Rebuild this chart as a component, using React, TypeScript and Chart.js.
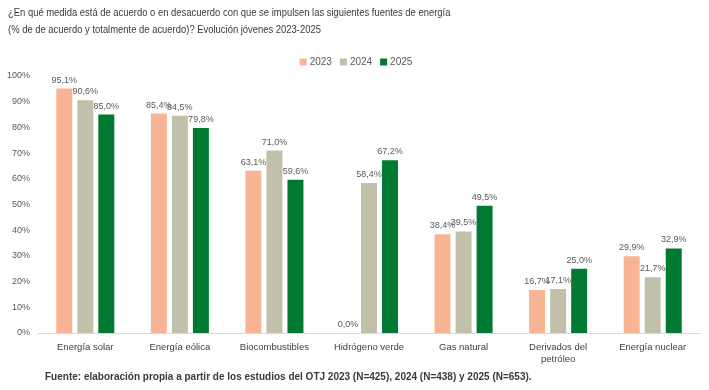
import React, { useEffect, useRef } from "react";
import { Chart, registerables } from "chart.js";

Chart.register(...registerables);

const categories: (string | string[])[] = [
  "Energía solar",
  "Energía eólica",
  "Biocombustibles",
  "Hidrógeno verde",
  "Gas natural",
  ["Derivados del", "petróleo"],
  "Energía nuclear",
];
const seriesNames = ["2023", "2024", "2025"];
const values2023 = [95.1, 85.4, 63.1, 0.0, 38.4, 16.7, 29.9];
const values2024 = [90.6, 84.5, 71.0, 58.4, 39.5, 17.1, 21.7];
const values2025 = [85.0, 79.8, 59.6, 67.2, 49.5, 25.0, 32.9];
const seriesColors = ["#F8B595", "#C0C0AB", "#007A33"];
const titleLines = [
  "¿En qué medida está de acuerdo o en desacuerdo con que se impulsen las siguientes fuentes de energía",
  "(% de de acuerdo y totalmente de acuerdo)? Evolución jóvenes 2023-2025",
];
const sourceText =
  "Fuente: elaboración propia a partir de los estudios del OTJ 2023 (N=425), 2024 (N=438) y 2025 (N=653).";

const SANS = '"Liberation Sans", Arial, sans-serif';

const fmt = (v: number) => v.toFixed(1).replace(".", ",") + "%";

const decorPlugin = {
  id: "decor",
  afterDraw(chart: any) {
    const ctx = chart.ctx as CanvasRenderingContext2D;
    ctx.save();
    // Title (horizontally condensed)
    ctx.fillStyle = "#3a3a3a";
    ctx.font = `11.5px ${SANS}`;
    ctx.textAlign = "left";
    ctx.textBaseline = "middle";
    ctx.save();
    ctx.translate(8, 0);
    ctx.scale(0.82, 1);
    titleLines.forEach((t, i) => ctx.fillText(t, 0, 13 + i * 17));
    ctx.restore();

    // Legend
    ctx.font = `10px ${SANS}`;
    const box = 7;
    const gapBoxText = 3;
    const gapItems = 8;
    const widths = seriesNames.map((n) => box + gapBoxText + ctx.measureText(n).width);
    const total = widths.reduce((a, b) => a + b, 0) + gapItems * (widths.length - 1);
    let lx = 356 - total / 2;
    const ly = 62;
    seriesNames.forEach((n, i) => {
      ctx.fillStyle = seriesColors[i];
      ctx.fillRect(lx, ly - box / 2, box, box);
      ctx.fillStyle = "#595959";
      ctx.fillText(n, lx + box + gapBoxText, ly + 0.5);
      lx += widths[i] + gapItems;
    });

    // Data labels
    ctx.font = `9px ${SANS}`;
    ctx.fillStyle = "#595959";
    ctx.textAlign = "center";
    ctx.textBaseline = "bottom";
    chart.data.datasets.forEach((ds: any, di: number) => {
      const meta = chart.getDatasetMeta(di);
      meta.data.forEach((el: any, i: number) => {
        ctx.fillText(fmt(ds.data[i]), el.x, el.y - 4);
      });
    });

    // Source
    ctx.font = `bold 10px ${SANS}`;
    ctx.fillStyle = "#3a3a3a";
    ctx.textAlign = "left";
    ctx.textBaseline = "middle";
    ctx.fillText(sourceText, 45, 377);
    ctx.restore();
  },
};

export default function App() {
  const ref = useRef<HTMLCanvasElement | null>(null);
  useEffect(() => {
    document.body.style.margin = "0";
    const canvas = ref.current!;
    const chart = new Chart(canvas, {
      type: "bar",
      data: {
        labels: categories as any,
        datasets: [values2023, values2024, values2025].map((d, i) => ({
          label: seriesNames[i],
          data: d,
          backgroundColor: seriesColors[i],
          barPercentage: 0.76,
          categoryPercentage: 0.667,
        })),
      },
      options: {
        responsive: false,
        animation: false,
        layout: { padding: { top: 76, right: 9, left: 0, bottom: 0 } },
        plugins: {
          legend: { display: false },
          title: { display: false },
          tooltip: { enabled: false },
        },
        scales: {
          y: {
            min: 0,
            max: 100,
            ticks: {
              stepSize: 10,
              callback: (v: any) => v + "%",
              font: { size: 9, family: SANS },
              color: "#595959",
              padding: 0,
            },
            grid: { display: false },
            border: { display: false },
            afterFit: (s: any) => {
              s.width = 38;
            },
          },
          x: {
            grid: { display: false },
            border: { display: true, color: "#d9d9d9" },
            ticks: {
              font: { size: 9.5, family: SANS },
              color: "#404040",
              padding: 1,
              maxRotation: 0,
              autoSkip: false,
            },
            afterFit: (s: any) => {
              s.height = 57;
            },
          },
        },
      },
      plugins: [decorPlugin],
    });
    return () => chart.destroy();
  }, []);
  return <canvas ref={ref} width={709} height={390} style={{ display: "block" }} />;
}
